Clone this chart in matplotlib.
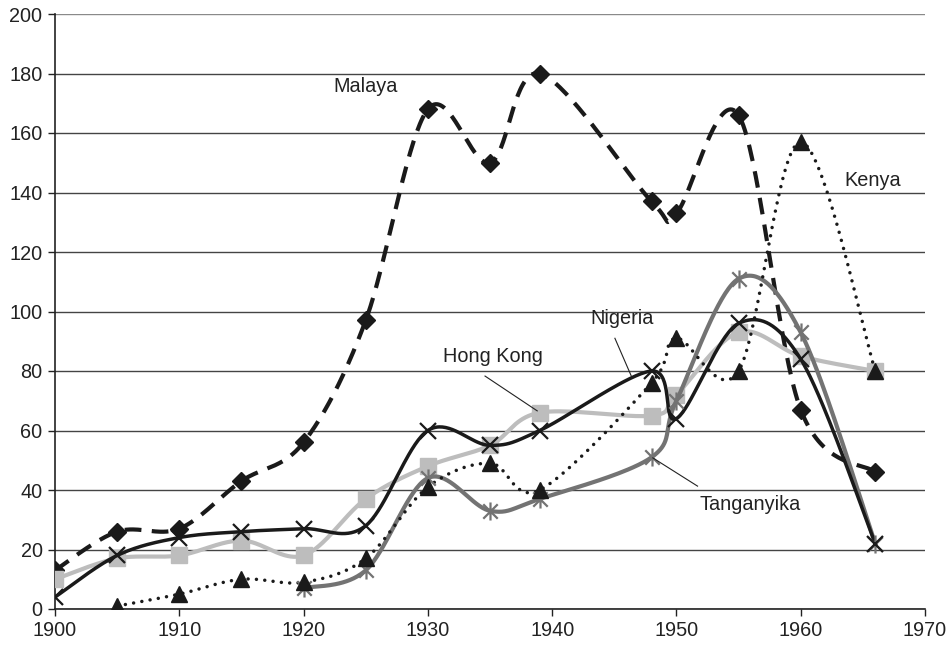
import numpy as np
import matplotlib
matplotlib.use("Agg")
import matplotlib.pyplot as plt
from matplotlib.path import Path

years = [1900, 1905, 1910, 1915, 1920, 1925, 1930, 1935, 1939, 1948, 1950, 1955, 1960, 1966]

malaya = [13, 26, 27, 43, 56, 97, 168, 150, 180, 137, 133, 166, 67, 46]
hong_kong = [10, 17, 18, 23, 18, 37, 48, 55, 66, 65, 72, 93, 85, 80]
nigeria = [4, 18, 24, 26, 27, 28, 60, 55, 60, 80, 64, 96, 84, 22]

kenya_years = [1905, 1910, 1915, 1920, 1925, 1930, 1935, 1939, 1948, 1950, 1955, 1960, 1966]
kenya = [1, 5, 10, 9, 17, 41, 49, 40, 76, 91, 80, 157, 80]

tang_years = [1920, 1925, 1930, 1935, 1939, 1948, 1950, 1955, 1960, 1966]
tanganyika = [7, 13, 44, 33, 37, 51, 70, 111, 93, 22]

x_ticks = [1900, 1910, 1920, 1930, 1940, 1950, 1960, 1970]
y_ticks = list(range(0, 201, 20))

plt.rcParams['font.family'] = ['Liberation Sans', 'DejaVu Sans']

fig = plt.figure(figsize=(9.52, 6.48), dpi=100)
ax = fig.add_axes([55/952, 1 - 609/648, (925-55)/952, (609-14)/648])
ax.set_xlim(1900, 1970)
ax.set_ylim(0, 200)

SX = 870 / 70.0   # px per year
SY = 595 / 200.0  # px per unit


def smooth(xs, ys, n=40):
    px = np.asarray(xs, float) * SX
    py = np.asarray(ys, float) * SY
    P = np.column_stack([px, py])
    m = len(P)
    out = [P[0]]
    t = np.linspace(0, 1, n)[1:]
    for i in range(m - 1):
        p0 = P[i - 1] if i > 0 else P[i]
        p1 = P[i]
        p2 = P[i + 1]
        p3 = P[i + 2] if i + 2 < m else P[i + 1]
        c1 = p1 + (p2 - p0) / 6.0
        c2 = p2 - (p3 - p1) / 6.0
        seg = ((1 - t)[:, None] ** 3 * p1 + 3 * ((1 - t) ** 2 * t)[:, None] * c1
               + 3 * ((1 - t) * t ** 2)[:, None] * c2 + (t ** 3)[:, None] * p2)
        out.extend(seg)
    out = np.array(out)
    return out[:, 0] / SX, out[:, 1] / SY


# asterisk marker
ast = Path([(0, -1), (0, 1), (-0.8, -0.8), (0.8, 0.8), (-0.8, 0.8), (0.8, -0.8)],
           [Path.MOVETO, Path.LINETO, Path.MOVETO, Path.LINETO, Path.MOVETO, Path.LINETO])

for yv in y_ticks:
    ax.axhline(yv, color='#8a8a8a' if yv == 200 else '#444444', lw=1.0, zorder=1)

# Malaya
sx, sy = smooth(years, malaya)
ax.plot(sx, sy, color='#1a1a1a', lw=3, ls=(0, (4, 2.5)), zorder=3)
ax.plot(years, malaya, ls='none', marker='D', ms=9, color='#1a1a1a', zorder=4)

# Hong Kong
sx, sy = smooth(years, hong_kong)
ax.plot(sx, sy, color='#bdbdbd', lw=3, zorder=3)
ax.plot(years, hong_kong, ls='none', marker='s', ms=12, color='#bdbdbd', zorder=4)

# Tanganyika
sx, sy = smooth(tang_years, tanganyika)
ax.plot(sx, sy, color='#737373', lw=3, zorder=5)
ax.plot(tang_years, tanganyika, ls='none', marker=ast, ms=13, mew=1.6, color='#737373', zorder=6)

# Nigeria
sx, sy = smooth(years, nigeria)
ax.plot(sx, sy, color='#1a1a1a', lw=2.5, zorder=5)
ax.plot(years, nigeria, ls='none', marker='x', ms=12, mew=1.6, color='#1a1a1a', zorder=6)

# Kenya
sx, sy = smooth(kenya_years, kenya)
ax.plot(sx, sy, color='#1a1a1a', lw=2.5, ls=(0, (0.01, 2.4)), dash_capstyle='round', zorder=5)
ax.plot(kenya_years, kenya, ls='none', marker='^', ms=12, color='#1a1a1a', zorder=7)

fs = 14.3
tc = '#222222'
ax.text(1925, 175.5, 'Malaya', ha='center', va='center', fontsize=fs, color=tc)
ax.text(1965.8, 144, 'Kenya', ha='center', va='center', fontsize=fs, color=tc)
ax.text(1935.2, 85, 'Hong Kong', ha='center', va='center', fontsize=fs, color=tc)
ax.text(1945.6, 97.5, 'Nigeria', ha='center', va='center', fontsize=fs, color=tc)
ax.text(1955.9, 35, 'Tanganyika', ha='center', va='center', fontsize=fs, color=tc)
ax.plot([1934.6, 1938.8], [78.3, 66.6], color=tc, lw=0.8, zorder=8)
ax.plot([1945.05, 1946.4], [91, 78], color=tc, lw=0.8, zorder=8)
ax.plot([1948.1, 1951.7], [50.8, 41.3], color=tc, lw=0.8, zorder=8)

ax.set_xticks(x_ticks)
ax.set_yticks(y_ticks)
ax.tick_params(axis='both', direction='out', length=5, width=1, color=tc,
               labelsize=fs, labelcolor=tc, pad=4)
for s in ['top', 'right']:
    ax.spines[s].set_visible(False)
for s in ['left', 'bottom']:
    ax.spines[s].set_color(tc)
    ax.spines[s].set_linewidth(1.2)
ax.patch.set_alpha(0)

fig.savefig('out.png', dpi=100)
